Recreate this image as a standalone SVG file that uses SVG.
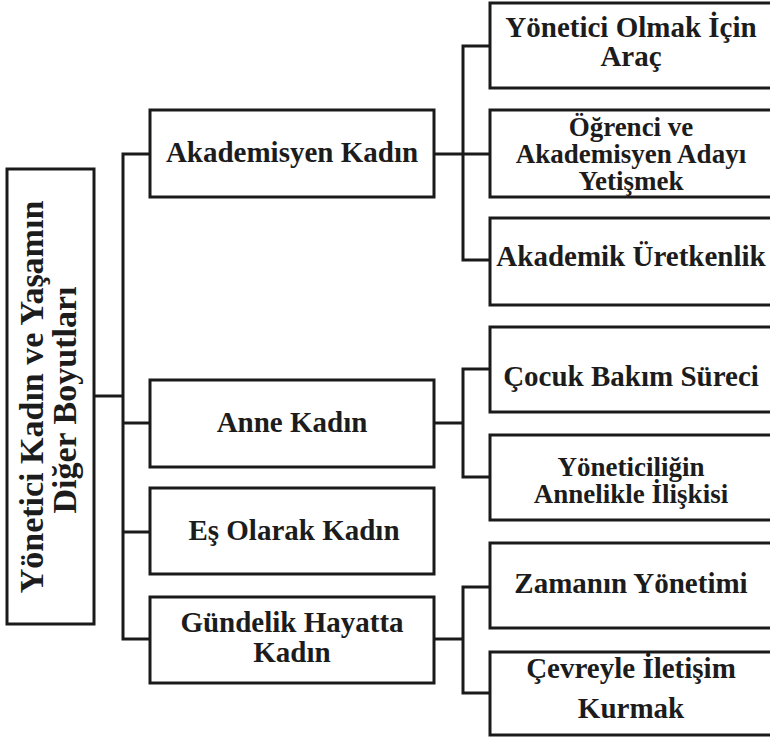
<svg xmlns="http://www.w3.org/2000/svg" width="770" height="740" viewBox="0 0 770 740">
<style>
.box{fill:#ffffff;stroke:#1a1a1a;stroke-width:3}
.ln{fill:none;stroke:#1a1a1a;stroke-width:3}
.t{font-family:"Liberation Serif","Times New Roman",serif;font-weight:bold;font-size:29px;fill:#1c1c1c;text-anchor:middle}
.ts{font-size:27px}
.tl{font-family:"Liberation Serif","Times New Roman",serif;font-weight:bold;font-size:34px;fill:#1c1c1c;text-anchor:middle}
</style>
<rect width="770" height="740" fill="#ffffff"/>
<g id="connectors">
<path class="ln" d="M94 396 H123"/>
<path class="ln" d="M150 154 H123 V639 H150"/>
<path class="ln" d="M123 423 H150"/>
<path class="ln" d="M123 532 H150"/>
<path class="ln" d="M434 154 H490"/>
<path class="ln" d="M490 46 H463 V260 H490"/>
<path class="ln" d="M434 423 H463"/>
<path class="ln" d="M490 369 H463 V477 H490"/>
<path class="ln" d="M434 639 H463"/>
<path class="ln" d="M490 587 H463 V693 H490"/>
</g>
<g id="root">
<rect class="box" x="7" y="169" width="87" height="455"/>
<text class="tl" transform="translate(43 397) rotate(-90)">Yönetici Kadın ve Yaşamın</text>
<text class="tl" transform="translate(76 400) rotate(-90)">Diğer Boyutları</text>
</g>
<g id="akademisyen">
<rect class="box" x="150" y="110" width="284" height="87"/>
<text class="t" x="292" y="162">Akademisyen Kadın</text>
</g>
<g id="anne">
<rect class="box" x="150" y="380" width="284" height="87"/>
<text class="t" x="292" y="432">Anne Kadın</text>
</g>
<g id="es">
<rect class="box" x="150" y="488" width="284" height="86"/>
<text class="t" x="294" y="540">Eş Olarak Kadın</text>
</g>
<g id="gundelik">
<rect class="box" x="150" y="597" width="284" height="86"/>
<text class="t" x="292" y="632">Gündelik Hayatta</text>
<text class="t" x="292" y="662">Kadın</text>
</g>
<g id="arac">
<rect class="box" x="490" y="3" width="282" height="85"/>
<text class="t" x="631" y="37">Yönetici Olmak İçin</text>
<text class="t" x="631" y="66">Araç</text>
</g>
<g id="ogrenci">
<rect class="box" x="490" y="110" width="282" height="87"/>
<text class="t ts" x="631" y="136">Öğrenci ve</text>
<text class="t ts" x="631" y="163">Akademisyen Adayı</text>
<text class="t ts" x="631" y="190">Yetişmek</text>
</g>
<g id="uretkenlik">
<rect class="box" x="490" y="218" width="282" height="87"/>
<text class="t" x="631" y="266">Akademik Üretkenlik</text>
</g>
<g id="cocuk">
<rect class="box" x="490" y="327" width="282" height="85"/>
<text class="t" x="631" y="386">Çocuk Bakım Süreci</text>
</g>
<g id="yoneticilik">
<rect class="box" x="490" y="435" width="282" height="85"/>
<text class="t ts" x="631" y="476">Yöneticiliğin</text>
<text class="t ts" x="631" y="503">Annelikle İlişkisi</text>
</g>
<g id="zaman">
<rect class="box" x="490" y="543" width="282" height="85"/>
<text class="t" x="631" y="593">Zamanın Yönetimi</text>
</g>
<g id="cevre">
<rect class="box" x="490" y="652" width="282" height="83"/>
<text class="t" x="631" y="678">Çevreyle İletişim</text>
<text class="t" x="631" y="718">Kurmak</text>
</g>
</svg>
